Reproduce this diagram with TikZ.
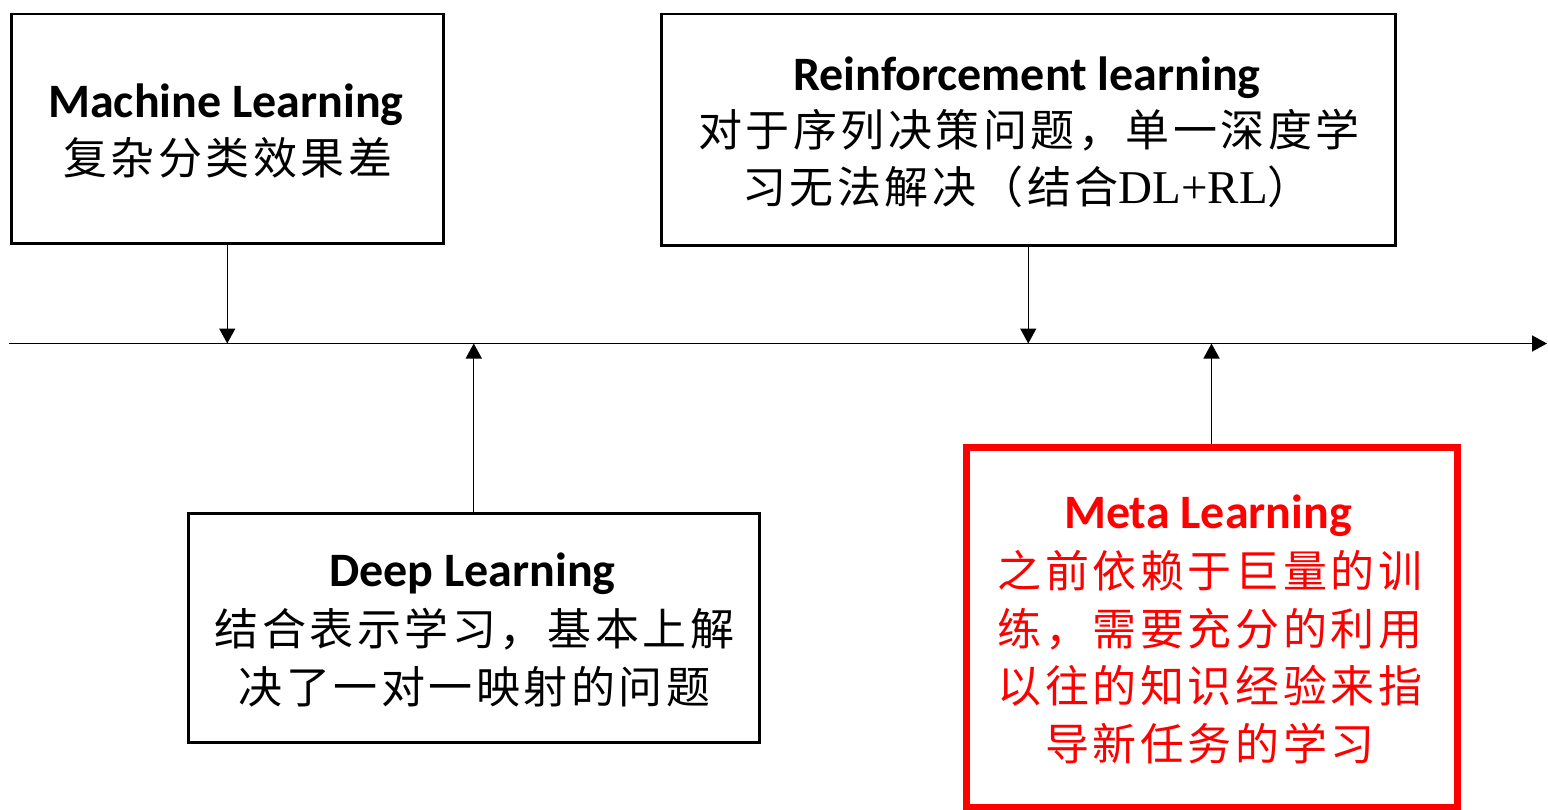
\documentclass[tikz,border=0pt]{standalone}
\usepackage{fontspec}
\usetikzlibrary{arrows.meta}
\newfontfamily\cjk{Noto Sans CJK SC}[LetterSpace=8]
\newfontfamily\titlefont{Carlito}
\newfontfamily\latinserif{Liberation Serif}
\definecolor{metared}{RGB}{255,0,0}

\tikzset{
  box/.style={draw, line width=2.5bp, anchor=north west, inner sep=0pt},
  metabox/.style={box, draw=metared, line width=7bp},
  heading/.style={font=\fontsize{48bp}{56bp}\selectfont\titlefont\bfseries, anchor=base, inner sep=0pt},
  body/.style={font=\fontsize{44bp}{50bp}\selectfont\cjk, anchor=base, inner sep=0pt},
  link/.style={line width=1.4bp, -{Triangle[length=15bp,width=16bp]}},
}

\begin{document}
\begin{tikzpicture}[x=1bp,y=-1bp]
  \useasboundingbox (0,0) rectangle (1548,809);

  % time axis
  \coordinate (axisstart) at (9,343.5);
  \coordinate (axisend) at (1547,343.5);
  \draw[link] (axisstart) -- (axisend);

  % Machine Learning
  \node[box, minimum width=432bp, minimum height=229bp] (mlbox) at (10,13) {};
  \node[heading] (mltitle) at (226,117) {Machine Learning};
  \node[body] (mltext) at (228,174) {复杂分类效果差};

  % Reinforcement learning
  \node[box, minimum width=734bp, minimum height=231bp] (rlbox) at (660,13) {};
  \node[heading] (rltitle) at (1027,90) {Reinforcement learning};
  \node[body] (rltext1) at (1029,146) {对于序列决策问题，单一深度学};
  \node[body] (rltext2) at (1027,203) {习无法解决（结合{\fontsize{47bp}{50bp}\selectfont\latinserif DL+RL}）};

  % Deep Learning
  \node[box, minimum width=571bp, minimum height=229bp] (dlbox) at (187,512) {};
  \node[heading] (dltitle) at (472.5,586) {Deep Learning};
  \node[body] (dltext1) at (474.5,645) {结合表示学习，基本上解};
  \node[body] (dltext2) at (474.5,703) {决了一对一映射的问题};

  % Meta Learning
  \node[metabox, minimum width=491bp, minimum height=360bp] (metabox) at (962.5,443.5) {};
  \node[heading, text=metared] (metatitle) at (1208,528) {Meta Learning};
  \node[body, text=metared] (metatext1) at (1210,587) {之前依赖于巨量的训};
  \node[body, text=metared] (metatext2) at (1210,645) {练，需要充分的利用};
  \node[body, text=metared] (metatext3) at (1210,702) {以往的知识经验来指};
  \node[body, text=metared] (metatext4) at (1210,760) {导新任务的学习};

  % connectors onto the axis
  \draw[link] (mlbox.south) -- (mlbox.south |- axisstart);
  \draw[link] (rlbox.south) -- (rlbox.south |- axisstart);
  \draw[link] (dlbox.north) -- (dlbox.north |- axisstart);
  \draw[link] (metabox.north) -- (metabox.north |- axisstart);
\end{tikzpicture}
\end{document}
